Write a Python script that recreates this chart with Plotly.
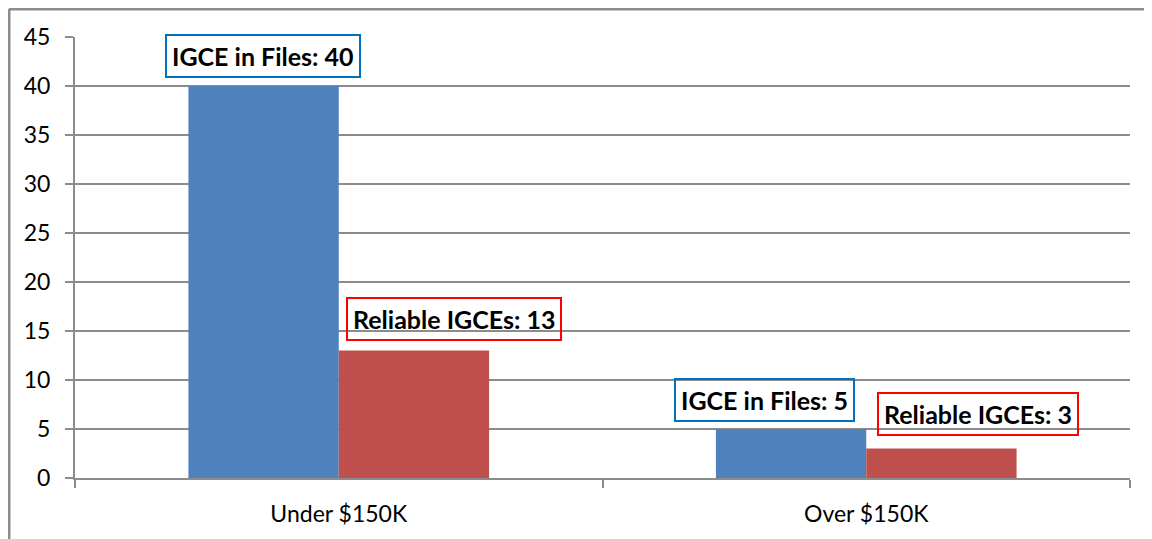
import plotly.graph_objects as go

# data
categories = ['Under $150K', 'Over $150K']
igce_in_files = [40, 5]
reliable_igces = [13, 3]
y_ticks = [0, 5, 10, 15, 20, 25, 30, 35, 40, 45]

BLUE = '#4F81BD'
RED = '#C0504D'
GRID = '#8C8C8C'
FONT = 'Lato, Calibri, Arial, sans-serif'

fig = go.Figure()
fig.add_trace(go.Bar(x=categories, y=igce_in_files, name='IGCE in Files',
                     marker=dict(color=BLUE, line=dict(width=0))))
fig.add_trace(go.Bar(x=categories, y=reliable_igces, name='Reliable IGCEs',
                     marker=dict(color=RED, line=dict(width=0))))

# label boxes: (xshift, yshift) in pixels from the category centre / bar top
blue_off = [(-76, 8), (-102, 7)]
red_off = [(115, 10), (112, 13)]
for i, cat in enumerate(categories):
    dx, dy = blue_off[i]
    fig.add_annotation(x=cat, y=igce_in_files[i], xref='x', yref='y',
                       text=f'<b>IGCE in Files: {igce_in_files[i]}</b>',
                       showarrow=False, xanchor='center', yanchor='bottom',
                       xshift=dx, yshift=dy,
                       font=dict(family=FONT, size=25, color='#000000'),
                       bordercolor='#0070C0', borderwidth=2, borderpad=5,
                       bgcolor='rgba(0,0,0,0)')
    dx, dy = red_off[i]
    fig.add_annotation(x=cat, y=reliable_igces[i], xref='x', yref='y',
                       text=f'<b>Reliable IGCEs: {reliable_igces[i]}</b>',
                       showarrow=False, xanchor='center', yanchor='bottom',
                       xshift=dx, yshift=dy,
                       font=dict(family=FONT, size=25, color='#000000'),
                       bordercolor='#FF0000', borderwidth=2, borderpad=5,
                       bgcolor='rgba(0,0,0,0)')

# outer chart border (top and left visible)
fig.add_shape(type='line', xref='paper', yref='paper',
              x0=-66/1055, x1=1.1, y0=1 + 28/441, y1=1 + 28/441,
              line=dict(color='#8C8C8C', width=3))
fig.add_shape(type='line', xref='paper', yref='paper',
              x0=-66/1055, x1=-66/1055, y0=-0.2, y1=1 + 28/441,
              line=dict(color='#8C8C8C', width=3))

fig.update_layout(
    width=1144, height=531,
    paper_bgcolor='white', plot_bgcolor='white',
    margin=dict(l=67, r=22, t=29, b=61),
    barmode='group', bargap=0.43, bargroupgap=0,
    showlegend=False,
    font=dict(family=FONT, size=23, color='#000000'),
    xaxis=dict(showgrid=False, showline=True, linecolor=GRID, linewidth=2,
               ticks='outside', tickson='boundaries', ticklen=8,
               tickcolor=GRID, tickwidth=2, ticklabelstandoff=14,
               tickfont=dict(family=FONT, size=23, color='#000000')),
    yaxis=dict(range=[0, 45], tickvals=y_ticks, showgrid=True,
               gridcolor=GRID, gridwidth=1.5, zeroline=False,
               showline=True, linecolor=GRID, linewidth=2,
               ticks='outside', ticklen=8, tickcolor=GRID, tickwidth=2,
               ticklabelstandoff=10,
               tickfont=dict(family=FONT, size=23, color='#000000')),
)

fig.write_html('out.html')
